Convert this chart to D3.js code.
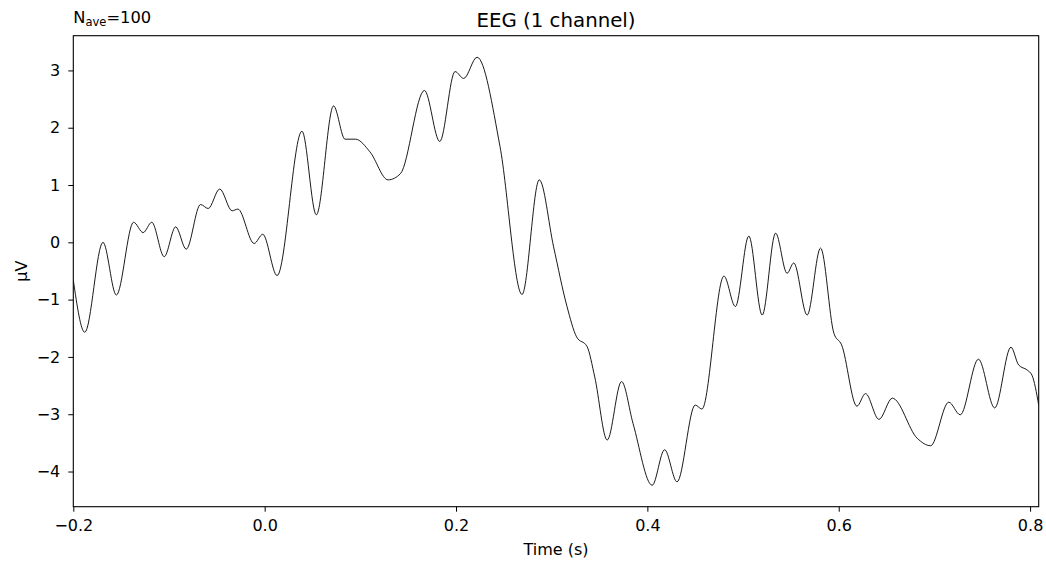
<!DOCTYPE html>
<html>
<head>
<meta charset="utf-8">
<script src="https://cdn.jsdelivr.net/npm/d3@7"></script>
<style>
  body { margin: 0; background: #fff; }
  svg { display: block; font-family: 'DejaVu Sans', sans-serif; }
</style>
</head>
<body>
<svg id="chart" width="1046" height="564"></svg>
<script>
// evoked response, one channel (times in s, amplitude in µV)
const times = [
  -0.200, -0.188, -0.169, -0.155, -0.137, -0.127, -0.118, -0.105, -0.093, -0.082,
  -0.067, -0.059, -0.047, -0.034, -0.028, -0.011, -0.002, 0.013, 0.039, 0.054,
  0.072, 0.084, 0.095, 0.110, 0.129, 0.142, 0.167, 0.183, 0.199, 0.208,
  0.222, 0.246, 0.269, 0.287, 0.302, 0.316, 0.326, 0.337, 0.345, 0.358,
  0.373, 0.385, 0.405, 0.418, 0.431, 0.450, 0.457, 0.480, 0.492, 0.506,
  0.520, 0.534, 0.546, 0.553, 0.567, 0.581, 0.595, 0.603, 0.619, 0.628,
  0.642, 0.656, 0.682, 0.696, 0.715, 0.727, 0.746, 0.763, 0.780, 0.788,
  0.797, 0.802, 0.809
]
const values = [
  -0.66, -1.57, 0.00, -0.92, 0.35, 0.17, 0.35, -0.25, 0.27, -0.12,
  0.66, 0.59, 0.93, 0.55, 0.58, -0.02, 0.14, -0.58, 1.94, 0.48,
  2.38, 1.80, 1.80, 1.58, 1.09, 1.20, 2.65, 1.76, 2.98, 2.86,
  3.23, 1.67, -0.91, 1.09, -0.08, -1.12, -1.65, -1.82, -2.35, -3.45,
  -2.43, -3.16, -4.24, -3.62, -4.18, -2.84, -2.91, -0.59, -1.12, 0.11,
  -1.27, 0.16, -0.54, -0.36, -1.27, -0.10, -1.59, -1.79, -2.86, -2.64,
  -3.09, -2.72, -3.42, -3.55, -2.79, -3.01, -2.04, -2.89, -1.83, -2.14,
  -2.23, -2.32, -2.84
]
const xTicks = [-0.2, 0.0, 0.2, 0.4, 0.6, 0.8]
const yTicks = [-4, -3, -2, -1, 0, 1, 2, 3]

const width = 1046
const height = 564
const margin = { top: 35.7, right: 7.3, bottom: 57.3, left: 73.3 }

const svg = d3.select('#chart')

const xScale = d3.scaleLinear().domain([-0.2, 0.809]).range([margin.left, width - margin.right])
const yScale = d3.scaleLinear().domain([-4.614, 3.606]).range([height - margin.bottom, margin.top])

const data = times.map((t, i) => ({ t, v: values[i] }))

svg.append('clipPath').attr('id', 'plot-clip')
  .append('rect')
  .attr('x', margin.left).attr('y', margin.top)
  .attr('width', width - margin.left - margin.right)
  .attr('height', height - margin.top - margin.bottom)

const line = d3.line()
  .x((d) => xScale(d.t))
  .y((d) => yScale(d.v))
  .curve(d3.curveMonotoneX)

svg.append('path')
  .datum(data)
  .attr('clip-path', 'url(#plot-clip)')
  .attr('fill', 'none')
  .attr('stroke', '#000')
  .attr('stroke-width', 0.9)
  .attr('d', line)

// axes
const xAxis = svg.append('g')
  .attr('transform', `translate(0, ${height - margin.bottom})`)
  .call(d3.axisBottom(xScale).tickValues(xTicks).tickSize(5).tickPadding(8)
    .tickFormat((d) => d3.format('.1f')(d).replace('-', '\u2212')))
xAxis.select('.domain').remove()
xAxis.selectAll('text').attr('font-size', 16).attr('fill', '#000').attr('font-family', 'DejaVu Sans')
xAxis.selectAll('line').attr('stroke', '#000').attr('stroke-width', 1)

const yAxis = svg.append('g')
  .attr('transform', `translate(${margin.left}, 0)`)
  .call(d3.axisLeft(yScale).tickValues(yTicks).tickSize(5).tickPadding(8)
    .tickFormat((d) => String(d).replace('-', '\u2212')))
yAxis.select('.domain').remove()
yAxis.selectAll('text').attr('font-size', 16).attr('fill', '#000').attr('font-family', 'DejaVu Sans')
yAxis.selectAll('line').attr('stroke', '#000').attr('stroke-width', 1)

// frame
svg.append('rect')
  .attr('x', margin.left).attr('y', margin.top)
  .attr('width', width - margin.left - margin.right)
  .attr('height', height - margin.top - margin.bottom)
  .attr('fill', 'none')
  .attr('stroke', '#000')
  .attr('stroke-width', 1.1)

// labels
svg.append('text')
  .attr('x', (margin.left + width - margin.right) / 2)
  .attr('y', 27)
  .attr('text-anchor', 'middle')
  .attr('font-size', 19.8)
  .text('EEG (1 channel)')

const nave = svg.append('text')
  .attr('x', margin.left)
  .attr('y', 23)
  .attr('font-size', 16.3)
nave.append('tspan').text('N')
nave.append('tspan').attr('font-size', 11.5).attr('dy', 2.5).text('ave')
nave.append('tspan').attr('dy', -2.5).text('=100')

svg.append('text')
  .attr('x', (margin.left + width - margin.right) / 2)
  .attr('y', 555)
  .attr('text-anchor', 'middle')
  .attr('font-size', 16)
  .text('Time (s)')

svg.append('text')
  .attr('transform', `translate(27, ${(margin.top + height - margin.bottom) / 2}) rotate(-90)`)
  .attr('text-anchor', 'middle')
  .attr('font-size', 16)
  .text('µV')
</script>
</body>
</html>
